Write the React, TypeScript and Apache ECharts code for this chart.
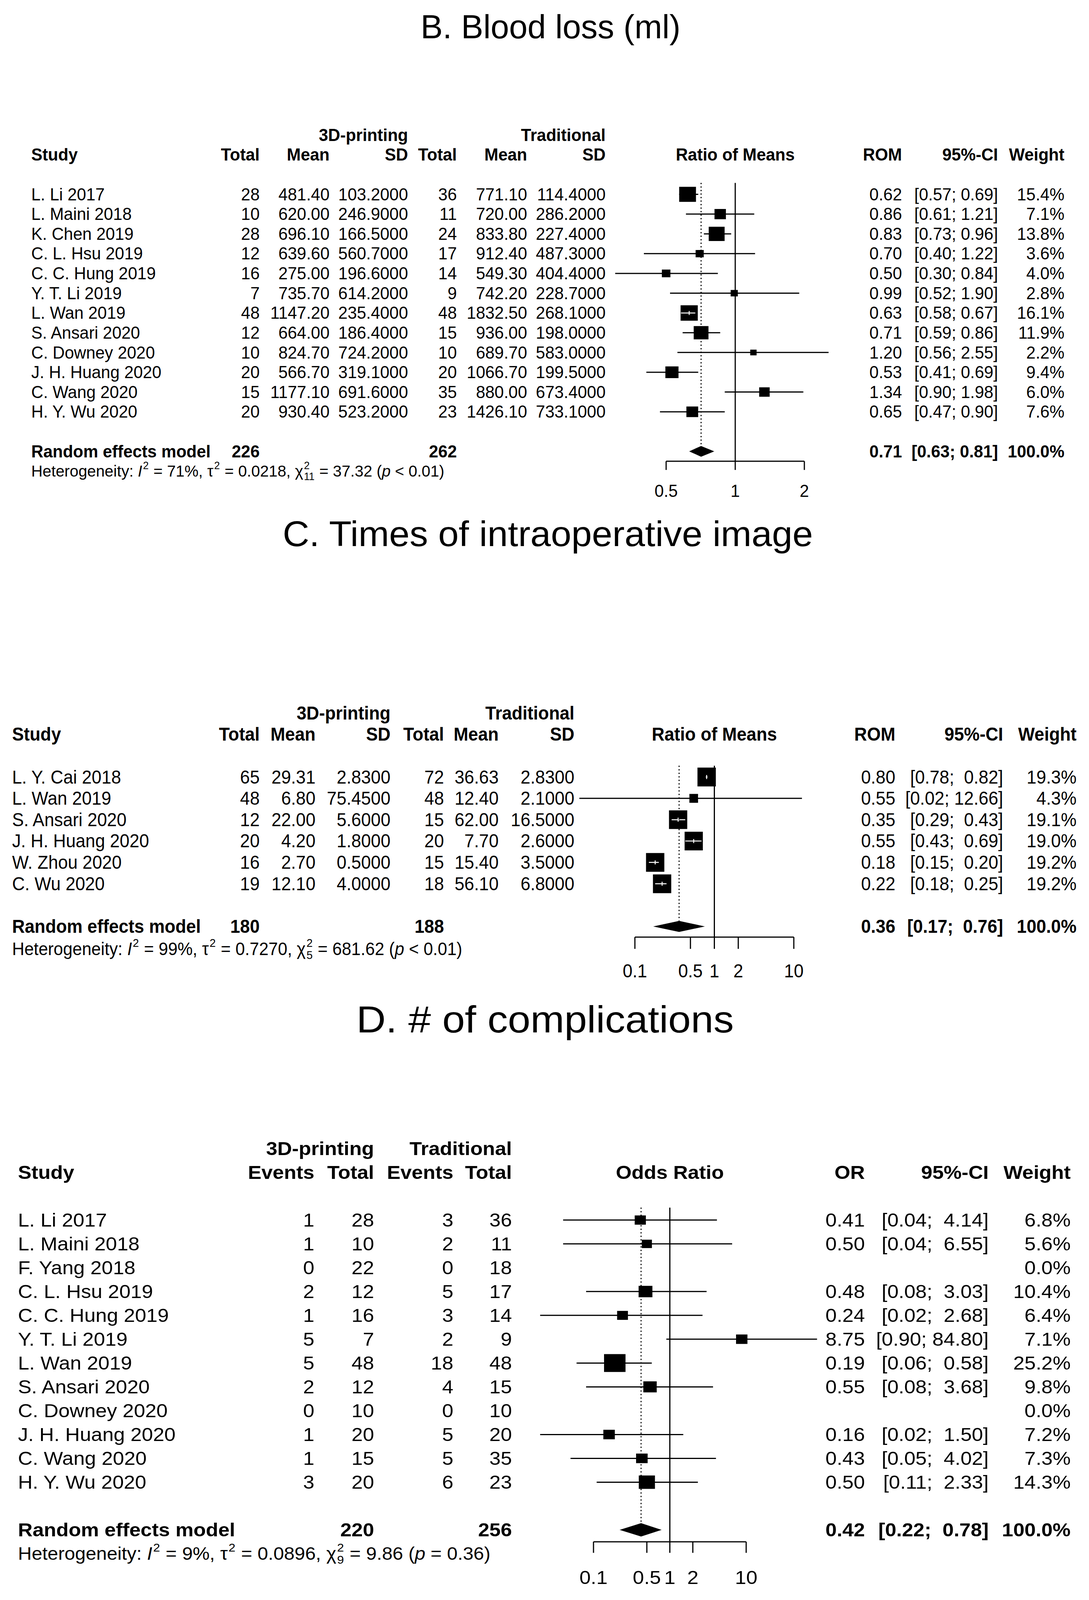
import React, { useEffect, useRef, useState } from "react";
import * as echarts from "echarts";

const PAGE_W = 2789;
const PAGE_H = 4767;
const FONT = '"Liberation Sans", Arial, Helvetica, sans-serif';

// ================= DATA =================
const groupHead = ["3D-printing", "Traditional"];
const headMean = ["Total", "Mean", "SD", "Total", "Mean", "SD"];
const headEvents = ["Events", "Total", "Events", "Total"];

// ---- B. Blood loss
const titleB = "B. Blood loss (ml)";
const studiesB = ["L. Li 2017", "L. Maini 2018", "K. Chen 2019", "C. L. Hsu 2019", "C. C. Hung 2019", "Y. T. Li 2019", "L. Wan 2019", "S. Ansari 2020", "C. Downey 2020", "J. H. Huang 2020", "C. Wang 2020", "H. Y. Wu 2020"];
const totalExpB = [28, 10, 28, 12, 16, 7, 48, 12, 10, 20, 15, 20];
const meanExpB = [481.4, 620.0, 696.1, 639.6, 275.0, 735.7, 1147.2, 664.0, 824.7, 566.7, 1177.1, 930.4];
const sdExpB = [103.2, 246.9, 166.5, 560.7, 196.6, 614.2, 235.4, 186.4, 724.2, 319.1, 691.6, 523.2];
const totalCtlB = [36, 11, 24, 17, 14, 9, 48, 15, 10, 20, 35, 23];
const meanCtlB = [771.1, 720.0, 833.8, 912.4, 549.3, 742.2, 1832.5, 936.0, 689.7, 1066.7, 880.0, 1426.1];
const sdCtlB = [114.4, 286.2, 227.4, 487.3, 404.4, 228.7, 268.1, 198.0, 583.0, 199.5, 673.4, 733.1];
const romB = [0.62, 0.86, 0.83, 0.70, 0.50, 0.99, 0.63, 0.71, 1.20, 0.53, 1.34, 0.65];
const lowerB = [0.57, 0.61, 0.73, 0.40, 0.30, 0.52, 0.58, 0.59, 0.56, 0.41, 0.90, 0.47];
const upperB = [0.69, 1.21, 0.96, 1.22, 0.84, 1.90, 0.67, 0.86, 2.55, 0.69, 1.98, 0.90];
const weightB = [15.4, 7.1, 13.8, 3.6, 4.0, 2.8, 16.1, 11.9, 2.2, 9.4, 6.0, 7.6];
const pooledTotalsB = [226, 262];
const pooledB = [0.71, 0.63, 0.81];
const hetB = ["71%", "0.0218", "11", "37.32", "<", "0.01"];
const ticksB = [0.5, 1, 2];

// ---- C. Times of intraoperative image
const titleC = "C. Times of intraoperative image";
const studiesC = ["L. Y. Cai 2018", "L. Wan 2019", "S. Ansari 2020", "J. H. Huang 2020", "W. Zhou 2020", "C. Wu 2020"];
const totalExpC = [65, 48, 12, 20, 16, 19];
const meanExpC = [29.31, 6.8, 22.0, 4.2, 2.7, 12.1];
const sdExpC = [2.83, 75.45, 5.6, 1.8, 0.5, 4.0];
const totalCtlC = [72, 48, 15, 20, 15, 18];
const meanCtlC = [36.63, 12.4, 62.0, 7.7, 15.4, 56.1];
const sdCtlC = [2.83, 2.1, 16.5, 2.6, 3.5, 6.8];
const romC = [0.80, 0.55, 0.35, 0.55, 0.18, 0.22];
const lowerC = [0.78, 0.02, 0.29, 0.43, 0.15, 0.18];
const upperC = [0.82, 12.66, 0.43, 0.69, 0.20, 0.25];
const weightC = [19.3, 4.3, 19.1, 19.0, 19.2, 19.2];
const pooledTotalsC = [180, 188];
const pooledC = [0.36, 0.17, 0.76];
const hetC = ["99%", "0.7270", "5", "681.62", "<", "0.01"];
const ticksC = [0.1, 0.5, 1, 2, 10];

// ---- D. # of complications
const titleD = "D. # of complications";
const studiesD = ["L. Li 2017", "L. Maini 2018", "F. Yang 2018", "C. L. Hsu 2019", "C. C. Hung 2019", "Y. T. Li 2019", "L. Wan 2019", "S. Ansari 2020", "C. Downey 2020", "J. H. Huang 2020", "C. Wang 2020", "H. Y. Wu 2020"];
const eventsExpD = [1, 1, 0, 2, 1, 5, 5, 2, 0, 1, 1, 3];
const totalExpD = [28, 10, 22, 12, 16, 7, 48, 12, 10, 20, 15, 20];
const eventsCtlD = [3, 2, 0, 5, 3, 2, 18, 4, 0, 5, 5, 6];
const totalCtlD = [36, 11, 18, 17, 14, 9, 48, 15, 10, 20, 35, 23];
const orD = [0.41, 0.50, null, 0.48, 0.24, 8.75, 0.19, 0.55, null, 0.16, 0.43, 0.50];
const lowerD = [0.04, 0.04, null, 0.08, 0.02, 0.90, 0.06, 0.08, null, 0.02, 0.05, 0.11];
const upperD = [4.14, 6.55, null, 3.03, 2.68, 84.80, 0.58, 3.68, null, 1.50, 4.02, 2.33];
const weightD = [6.8, 5.6, 0.0, 10.4, 6.4, 7.1, 25.2, 9.8, 0.0, 7.2, 7.3, 14.3];
const pooledTotalsD = [220, 256];
const pooledD = [0.42, 0.22, 0.78];
const hetD = ["9%", "0.0896", "9", "9.86", "=", "0.36"];
const ticksD = [0.1, 0.5, 1, 2, 10];

// ================= LAYOUT (reference pixel space, 2789 x 4767) =================
const layoutB = {
  y0: 579, dy: 58.9, fs: 51, sx: 0.84, studyX: 80, hetScale: 0.94,
  colX: [665, 844, 1045, 1170, 1350, 1551], groupX: [1045, 1551], totalCols: [0, 3],
  effX: 2310, ciX: 2556, wX: 2726,
  gridLeft: 1706, gridWidth: 354, box: [44, 46], dH: 32, tickLen: 26, lw: 3,
  sumRow: 13, hetRow: 14, axisRow: 13.5, labelRow: 15, yMax: 15, refTop: -0.58,
  titleY: 80, titleFs: 100, titleSx: 0.85, titleX: 1410,
};
const layoutC = {
  y0: 2315, dy: 63.6, fs: 55, sx: 0.82, studyX: 31, hetScale: 0.965,
  colX: [665, 808, 1000, 1137, 1277, 1471], groupX: [1000, 1471], totalCols: [0, 3],
  effX: 2293, ciX: 2569, wX: 2757,
  gridLeft: 1626, gridWidth: 407, box: [47, 56], dH: 33, tickLen: 35, lw: 3,
  sumRow: 7, hetRow: 8.05, axisRow: 7.5, labelRow: 9.08, yMax: 9.5, refTop: -0.53,
  titleY: 1591, titleFs: 106, titleSx: 0.89, titleX: 1403,
};
const layoutD = {
  y0: 3635, dy: 71.0, fs: 57, sx: 0.91, studyX: 46, hetScale: 0.94,
  colX: [805, 958, 1161, 1311], groupX: [958, 1311], totalCols: [1, 3],
  effX: 2215, ciX: 2532, wX: 2742,
  gridLeft: 1520, gridWidth: 391, box: [55, 53], dH: 40, tickLen: 33, lw: 3,
  sumRow: 13, hetRow: 14, axisRow: 13.5, labelRow: 15, yMax: 15, refTop: -0.52,
  titleY: 3037, titleFs: 112, titleSx: 0.93, titleX: 1396,
};

// ================= HELPERS =================
const f2 = (v: number) => v.toFixed(2);
const f4 = (v: number) => v.toFixed(4);
const NBSP = "\u00A0";

let _ctx: any = null;
function textWidth(s: string, fs: number, italic = false, bold = false) {
  if (!_ctx) _ctx = document.createElement("canvas").getContext("2d");
  _ctx.font = `${italic ? "italic " : ""}${bold ? "bold " : ""}${fs}px "Liberation Sans"`;
  return _ctx.measureText(s).width;
}

function textStyle(text: string, fs: number, opt: any = {}) {
  const align = opt.align || "left";
  return {
    text,
    fontSize: fs,
    fontFamily: FONT,
    fontWeight: opt.bold ? "bold" : "normal",
    fontStyle: opt.italic ? "italic" : "normal",
    fill: "#000",
    textAlign: align,
    textVerticalAlign: "middle",
    align,
    verticalAlign: "middle",
  };
}

function ciStrings(lo: (number | null)[], hi: (number | null)[], pooled: number[]) {
  const all = hi.filter((v) => v != null).map((v) => (v as number).toFixed(2)).concat([pooled[2].toFixed(2)]);
  const maxLen = Math.max(...all.map((s) => s.length));
  const fmt = (l: number, h: number) => {
    const hs = h.toFixed(2);
    const pad = NBSP.repeat(maxLen - hs.length);
    return `[${l.toFixed(2)};${pad} ${hs}]`;
  };
  return {
    rows: lo.map((l, i) => (l == null ? "" : fmt(l, hi[i] as number))),
    pooled: fmt(pooled[1], pooled[2]),
  };
}

// ================= BUILD =================
function buildOption(SY: number) {
  // positions/sizes are in reference space; y is squeezed by SY to fit the viewport,
  // glyph widths are kept by scaleX = sx / SY
  const T = (x: number, y: number, text: string, fs: number, sx: number, opt: any = {}) => ({
    type: "text", x, y: y * SY, scaleX: sx / SY, silent: true, style: textStyle(text, fs * SY, opt),
  });

  const hetGroup = (x: number, y: number, fs0: number, sx: number, het: string[]) => {
    const fs = fs0 * SY;
    const [i2, tau2, df, q, pOp, pVal] = het;
    const parts: any[] = [
      { t: "Heterogeneity: " },
      { t: "I", it: true },
      { sup: "2" },
      { t: ` = ${i2}, τ` },
      { sup: "2" },
      { t: ` = ${tau2}, χ` },
      { sup: "2", sub: df },
      { t: ` = ${q} (` },
      { t: "p", it: true },
      { t: ` ${pOp} ${pVal})` },
    ];
    const small = fs * 0.65;
    let cx = 0;
    const kids: any[] = [];
    for (const p of parts) {
      if (p.t !== undefined) {
        const lead = p.t.length - p.t.replace(/^ +/, "").length;
        const leadW = lead ? textWidth(" ".repeat(lead), fs, !!p.it) : 0;
        kids.push({ type: "text", x: cx + leadW, y: 0, silent: true, style: textStyle(p.t.trim(), fs, { italic: p.it }) });
        cx += textWidth(p.t, fs, !!p.it);
      } else {
        const ws = textWidth(p.sup, small);
        const wb = p.sub ? textWidth(p.sub, small) : 0;
        kids.push({ type: "text", x: cx + 2, y: -0.34 * fs, silent: true, style: textStyle(p.sup, small) });
        if (p.sub) kids.push({ type: "text", x: cx + 2, y: 0.34 * fs, silent: true, style: textStyle(p.sub, small) });
        cx += Math.max(ws, wb) + 3;
      }
    }
    return { type: "group", x, y: y * SY, scaleX: sx / SY, silent: true, children: kids };
  };

  const buildPanel = (P: any, k: number) => {
    const L = P.L;
    const rowY = (r: number) => L.y0 + r * L.dy;
    const els: any[] = [];
    const fs = L.fs, sx = L.sx;

    els.push(T(L.titleX, L.titleY, P.title, L.titleFs, L.titleSx, { align: "center" }));
    els.push(T(L.groupX[0], rowY(-3), groupHead[0], fs, sx, { bold: true, align: "right" }));
    els.push(T(L.groupX[1], rowY(-3), groupHead[1], fs, sx, { bold: true, align: "right" }));
    els.push(T(L.studyX, rowY(-2), "Study", fs, sx, { bold: true }));
    P.heads.forEach((h: string, j: number) => els.push(T(L.colX[j], rowY(-2), h, fs, sx, { bold: true, align: "right" })));
    els.push(T(L.gridLeft + L.gridWidth / 2, rowY(-2), P.plotHead, fs, sx, { bold: true, align: "center" }));
    els.push(T(L.effX, rowY(-2), P.effHead, fs, sx, { bold: true, align: "right" }));
    els.push(T(L.ciX, rowY(-2), "95%-CI", fs, sx, { bold: true, align: "right" }));
    els.push(T(L.wX, rowY(-2), "Weight", fs, sx, { bold: true, align: "right" }));

    const ci = ciStrings(P.lo, P.hi, P.pooled);
    P.studies.forEach((s: string, i: number) => {
      const y = rowY(i);
      els.push(T(L.studyX, y, s, fs, sx));
      P.cols.forEach((col: string[], j: number) => els.push(T(L.colX[j], y, col[i], fs, sx, { align: "right" })));
      if (P.est[i] != null) {
        els.push(T(L.effX, y, (P.est[i] as number).toFixed(2), fs, sx, { align: "right" }));
        els.push(T(L.ciX, y, ci.rows[i], fs, sx, { align: "right" }));
      }
      els.push(T(L.wX, y, P.w[i].toFixed(1) + "%", fs, sx, { align: "right" }));
    });

    const ys = rowY(L.sumRow);
    els.push(T(L.studyX, ys, "Random effects model", fs, sx, { bold: true }));
    L.totalCols.forEach((c: number, j: number) => els.push(T(L.colX[c], ys, String(P.totals[j]), fs, sx, { bold: true, align: "right" })));
    els.push(T(L.effX, ys, P.pooled[0].toFixed(2), fs, sx, { bold: true, align: "right" }));
    els.push(T(L.ciX, ys, ci.pooled, fs, sx, { bold: true, align: "right" }));
    els.push(T(L.wX, ys, "100.0%", fs, sx, { bold: true, align: "right" }));

    els.push(hetGroup(L.studyX, rowY(L.hetRow), fs * L.hetScale, sx, P.het));

    const grid = {
      left: L.gridLeft, width: L.gridWidth,
      top: (L.y0 - 3 * L.dy) * SY, height: (L.yMax + 3) * L.dy * SY,
      containLabel: false, outerBoundsMode: "none", show: false,
    };
    const xAxis = { type: "log", logBase: 10, min: P.ticks[0], max: P.ticks[P.ticks.length - 1], gridIndex: k, show: false };
    const yAxis = { type: "value", min: -3, max: L.yMax, inverse: true, gridIndex: k, show: false };

    const wmax = Math.max(...P.w);
    const studyData: number[][] = [];
    P.est.forEach((e: number | null, i: number) => {
      if (e != null) studyData.push([e, i, P.lo[i], P.hi[i], P.w[i]]);
    });

    const studySeries = {
      type: "custom", xAxisIndex: k, yAxisIndex: k, clip: false, silent: true,
      encode: { x: 0, y: 1 },
      data: studyData,
      renderItem: (params: any, api: any) => {
        const est = api.value(0), row = api.value(1), lo = api.value(2), hi = api.value(3), w = api.value(4);
        const c = api.coord([est, row]);
        const cl = api.coord([lo, row]);
        const ch = api.coord([hi, row]);
        const f = Math.sqrt(w / wmax);
        const bw = L.box[0] * f, bh = L.box[1] * f * SY;
        const inside = cl[0] >= c[0] - bw / 2 && ch[0] <= c[0] + bw / 2;
        const kids: any[] = [
          { type: "line", shape: { x1: cl[0], y1: c[1], x2: ch[0], y2: c[1] }, style: { stroke: "#000", lineWidth: L.lw } },
          { type: "rect", shape: { x: c[0] - bw / 2, y: c[1] - bh / 2, width: bw, height: bh }, style: { fill: "#000" } },
        ];
        if (inside) {
          kids.push({ type: "line", shape: { x1: cl[0], y1: c[1], x2: ch[0], y2: c[1] }, style: { stroke: "#fff", lineWidth: 2.5 } });
          kids.push({ type: "line", shape: { x1: c[0], y1: c[1] - 6 * SY, x2: c[0], y2: c[1] + 6 * SY }, style: { stroke: "#fff", lineWidth: 2.5 } });
        }
        return { type: "group", children: kids };
      },
    };

    const pooledSeries = {
      type: "custom", xAxisIndex: k, yAxisIndex: k, clip: false, silent: true,
      encode: { x: 0, y: 1 },
      data: [[P.pooled[0], L.sumRow, P.pooled[1], P.pooled[2]]],
      renderItem: (params: any, api: any) => {
        const est = api.value(0), row = api.value(1), lo = api.value(2), hi = api.value(3);
        const c = api.coord([est, row]);
        const cl = api.coord([lo, row]);
        const ch = api.coord([hi, row]);
        const top1 = api.coord([1, L.refTop]);
        const bot1 = api.coord([1, L.axisRow]);
        const h = (L.dH / 2) * SY;
        return {
          type: "group",
          children: [
            { type: "line", shape: { x1: top1[0], y1: top1[1], x2: bot1[0], y2: bot1[1] }, style: { stroke: "#000", lineWidth: L.lw } },
            { type: "line", shape: { x1: c[0], y1: top1[1], x2: c[0], y2: c[1] - h }, style: { stroke: "#000", lineWidth: L.lw, lineDash: [3, 6] } },
            { type: "polygon", shape: { points: [[cl[0], c[1]], [c[0], c[1] - h], [ch[0], c[1]], [c[0], c[1] + h]] }, style: { fill: "#000" } },
          ],
        };
      },
    };

    const tickLabels = P.ticks.map((t: number) => String(t));
    const axisSeries = {
      type: "custom", xAxisIndex: k, yAxisIndex: k, clip: false, silent: true,
      encode: { x: 0 },
      data: P.ticks.map((t: number) => [t]),
      renderItem: (params: any, api: any) => {
        const v = api.value(0);
        const p = api.coord([v, L.axisRow]);
        const lp = api.coord([v, L.labelRow]);
        const kids: any[] = [
          { type: "line", shape: { x1: p[0], y1: p[1], x2: p[0], y2: p[1] + L.tickLen * SY }, style: { stroke: "#000", lineWidth: L.lw } },
          { type: "text", x: lp[0], y: lp[1], scaleX: sx / SY, style: textStyle(tickLabels[params.dataIndex], fs * SY, { align: "center" }) },
        ];
        if (params.dataIndex === 0) {
          const a = api.coord([P.ticks[0], L.axisRow]);
          const b = api.coord([P.ticks[P.ticks.length - 1], L.axisRow]);
          kids.push({ type: "line", shape: { x1: a[0], y1: a[1], x2: b[0], y2: b[1] }, style: { stroke: "#000", lineWidth: L.lw } });
        }
        return { type: "group", children: kids };
      },
    };

    return { els, grid, xAxis, yAxis, series: [studySeries, pooledSeries, axisSeries] };
  };

  const panels = [
    {
      title: titleB, studies: studiesB, L: layoutB, heads: headMean, plotHead: "Ratio of Means", effHead: "ROM",
      cols: [totalExpB.map(String), meanExpB.map(f2), sdExpB.map(f4), totalCtlB.map(String), meanCtlB.map(f2), sdCtlB.map(f4)],
      est: romB, lo: lowerB, hi: upperB, w: weightB, totals: pooledTotalsB, pooled: pooledB, het: hetB, ticks: ticksB,
    },
    {
      title: titleC, studies: studiesC, L: layoutC, heads: headMean, plotHead: "Ratio of Means", effHead: "ROM",
      cols: [totalExpC.map(String), meanExpC.map(f2), sdExpC.map(f4), totalCtlC.map(String), meanCtlC.map(f2), sdCtlC.map(f4)],
      est: romC, lo: lowerC, hi: upperC, w: weightC, totals: pooledTotalsC, pooled: pooledC, het: hetC, ticks: ticksC,
    },
    {
      title: titleD, studies: studiesD, L: layoutD, heads: headEvents, plotHead: "Odds Ratio", effHead: "OR",
      cols: [eventsExpD.map(String), totalExpD.map(String), eventsCtlD.map(String), totalCtlD.map(String)],
      est: orD, lo: lowerD, hi: upperD, w: weightD, totals: pooledTotalsD, pooled: pooledD, het: hetD, ticks: ticksD,
    },
  ];
  const built = panels.map((p, k) => buildPanel(p, k));
  return {
    animation: false,
    backgroundColor: "#ffffff",
    grid: built.map((b) => b.grid),
    xAxis: built.map((b) => b.xAxis),
    yAxis: built.map((b) => b.yAxis),
    series: built.flatMap((b) => b.series),
    graphic: { elements: built.flatMap((b) => b.els) },
  };
}

function viewHeight() {
  const h = typeof window !== "undefined" ? window.innerHeight : 0;
  return h && h > 200 ? Math.min(PAGE_H, h) : PAGE_H;
}

export default function App() {
  const ref = useRef<HTMLDivElement>(null);
  const [H] = useState(viewHeight);
  useEffect(() => {
    if (!ref.current) return;
    const SY = H / PAGE_H;
    const chart = echarts.init(ref.current, null, { renderer: "svg", width: PAGE_W, height: H });
    chart.setOption(buildOption(SY) as any);
    return () => chart.dispose();
  }, [H]);
  return (
    <div
      ref={ref}
      style={{ position: "absolute", left: 0, top: 0, width: PAGE_W, height: H, background: "#fff", overflow: "hidden" }}
    />
  );
}
